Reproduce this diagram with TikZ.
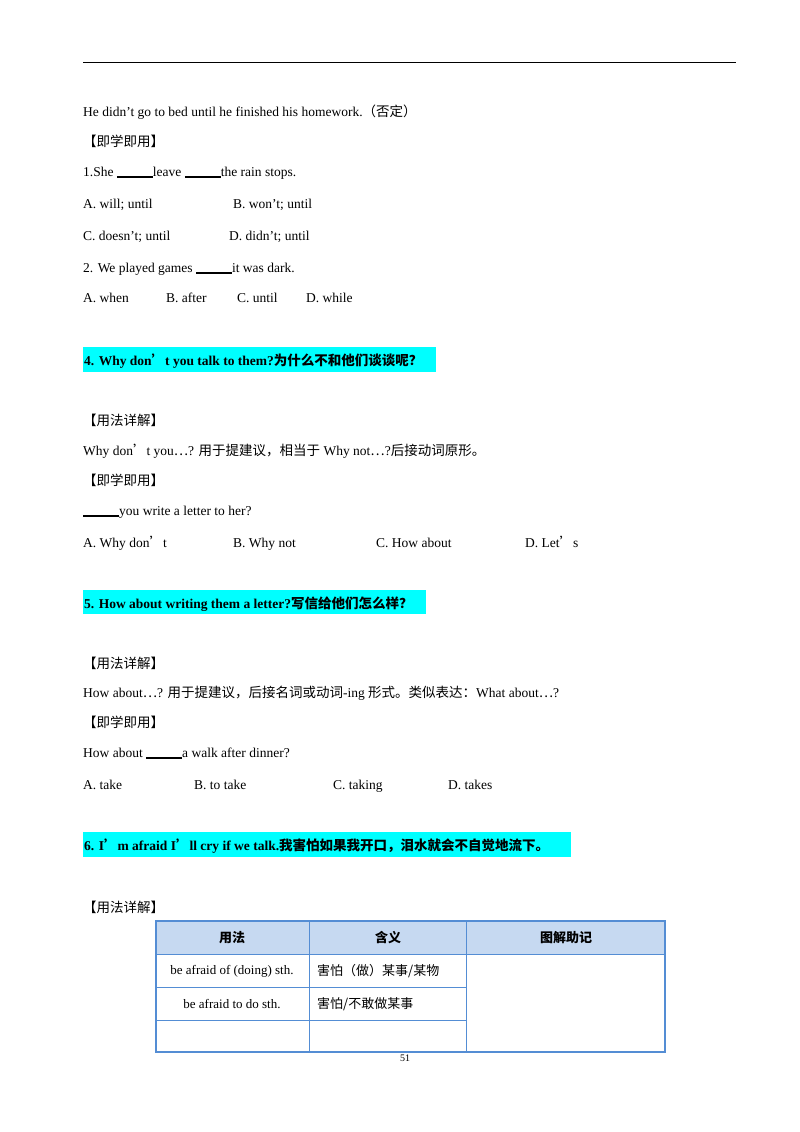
\documentclass[tikz,border=0pt]{standalone}
\usepackage{fontspec}
\setmainfont{Liberation Serif}
\newfontfamily\cjk{Noto Sans CJK SC}
\usetikzlibrary{positioning}
\definecolor{hlcyan}{RGB}{0,255,255}
\definecolor{tabline}{RGB}{84,141,212}
\definecolor{tabhead}{RGB}{198,217,241}
\newcommand{\blank}{\rule[-1.5pt]{36pt}{1.2pt}}
\newcommand{\q}{{\cjk ’}}
\tikzset{
  line/.style={anchor=base west, inner sep=0pt, font=\fontsize{13.5}{15}\selectfont},
  head/.style={anchor=base west, inner sep=0pt, font=\fontsize{13.5}{15}\selectfont\bfseries},
  hl/.style={fill=hlcyan, draw=none},
  cell/.style={inner sep=0pt, font=\fontsize{13}{15}\selectfont},
}
\begin{document}
\begin{tikzpicture}[x=1pt,y=-1pt]
  \useasboundingbox[fill=white] (0,0) rectangle (800,1132);
  \draw[line width=0.8pt] (83,62) -- (736,62);

  \node[line] (l1) at (83,116) {He didn't go to bed until he finished his homework.{\cjk （否定）}};
  \node[line] (l2) at (83,146) {\cjk 【即学即用】};
  \node[line] (l3) at (83,176) {1.She \blank leave \blank the rain stops.};
  \node[line] (a1) at (83,208) {A. will; until};
  \node[line] (b1) at (233,208) {B. won't; until};
  \node[line] (c1) at (83,240) {C. doesn't; until};
  \node[line] (d1) at (229,240) {D. didn't; until};
  \node[line] (l4) at (83,272) {2. We played games \blank it was dark.};
  \node[line] (a2) at (83,302) {A. when};
  \node[line] (b2) at (166,302) {B. after};
  \node[line] (c2) at (237,302) {C. until};
  \node[line] (d2) at (306,302) {D. while};

  % heading 4
  \fill[hl] (83,347) rectangle (436,372);
  \node[head] (h4) at (84,365) {4. Why don\q t you talk to them?{\cjk 为什么不和他们谈谈呢？}};
  \node[line] (l5) at (83,425) {\cjk 【用法详解】};
  \node[line] (l6) at (83,455) {Why don\q t you{\cjk …}? {\cjk 用于提建议，相当于} Why not{\cjk …}?{\cjk 后接动词原形。}};
  \node[line] (l7) at (83,485) {\cjk 【即学即用】};
  \node[line] (l8) at (83,515) {\blank you write a letter to her?};
  \node[line] (a3) at (83,547) {A. Why don\q t};
  \node[line] (b3) at (233,547) {B. Why not};
  \node[line] (c3) at (376,547) {C. How about};
  \node[line] (d3) at (525,547) {D. Let\q s};

  % heading 5
  \fill[hl] (83,590) rectangle (426,614);
  \node[head] (h5) at (84,608) {5. How about writing them a letter?{\cjk 写信给他们怎么样？}};
  \node[line] (l9) at (83,668) {\cjk 【用法详解】};
  \node[line] (l10) at (83,697) {How about{\cjk …}? {\cjk 用于提建议，后接名词或动词}-ing {\cjk 形式。类似表达：}What about{\cjk …}?};
  \node[line] (l11) at (83,727) {\cjk 【即学即用】};
  \node[line] (l12) at (83,757) {How about \blank a walk after dinner?};
  \node[line] (a4) at (83,789) {A. take};
  \node[line] (b4) at (194,789) {B. to take};
  \node[line] (c4) at (333,789) {C. taking};
  \node[line] (d4) at (448,789) {D. takes};

  % heading 6
  \fill[hl] (83,832) rectangle (571,857);
  \node[head] (h6) at (84,850) {6. I\q m afraid I\q ll cry if we talk.{\cjk 我害怕如果我开口，泪水就会不自觉地流下。}};
  \node[line] (l13) at (83,912) {\cjk 【用法详解】};

  % table
  \fill[tabhead] (156,921) rectangle (665,954);
  \draw[tabline, line width=1.2pt] (156,921) rectangle (665,1052);
  \draw[tabline, line width=1pt] (156,954) -- (665,954);
  \draw[tabline, line width=1pt] (156,987) -- (466,987) (156,1020) -- (466,1020);
  \draw[tabline, line width=1pt] (309,921) -- (309,1052) (466,921) -- (466,1052);
  \node[cell] (t1) at (232,938) {\cjk\bfseries 用法};
  \node[cell] (t2) at (388,938) {\cjk\bfseries 含义};
  \node[cell] (t3) at (566,938) {\cjk\bfseries 图解助记};
  \node[cell] (t4) at (232,971) {be afraid of (doing) sth.};
  \node[cell, anchor=west] (t5) at (317,971) {\cjk 害怕（做）某事/某物};
  \node[cell] (t6) at (232,1004) {be afraid to do sth.};
  \node[cell, anchor=west] (t7) at (317,1004) {\cjk 害怕/不敢做某事};

  \node[inner sep=0pt, font=\fontsize{10}{11}\selectfont] (pg) at (405,1058) {51};
\end{tikzpicture}
\end{document}
